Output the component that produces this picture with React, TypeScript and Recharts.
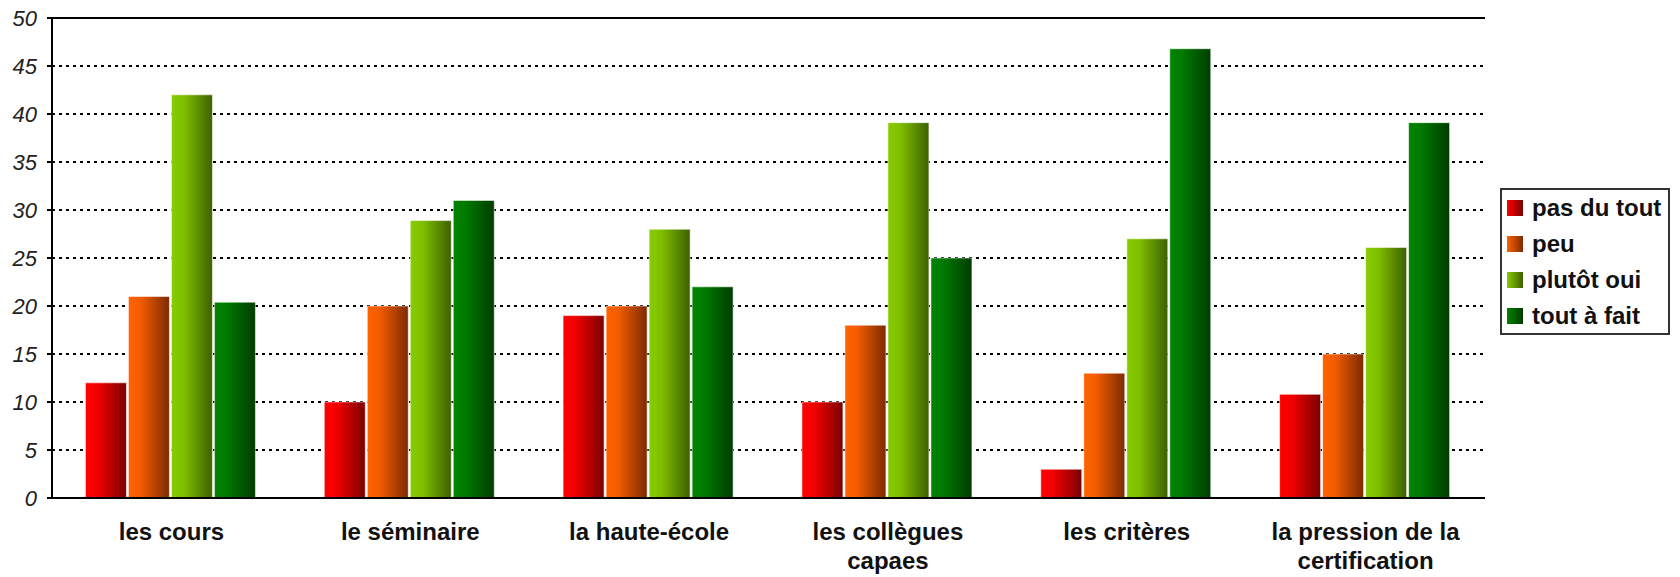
import { BarChart, Bar, XAxis, YAxis, CartesianGrid, Legend, ReferenceLine } from 'recharts';

const categories = [
  'les cours',
  'le séminaire',
  'la haute-école',
  'les collègues\ncapaes',
  'les critères',
  'la pression de la\ncertification',
];
const pasDuTout = [12, 10, 19, 10, 3, 10.8];
const peu = [21, 20, 20, 18, 13, 15];
const plutotOui = [42, 28.9, 28, 39.1, 27, 26.1];
const toutAFait = [20.4, 31, 22, 25, 46.8, 39.1];
const yTicks = [0, 5, 10, 15, 20, 25, 30, 35, 40, 45, 50];

const seriesNames = ['pas du tout', 'peu', 'plutôt oui', 'tout à fait'];

const chartData = categories.map((name, i) => ({
  name,
  pasDuTout: pasDuTout[i],
  peu: peu[i],
  plutotOui: plutotOui[i],
  toutAFait: toutAFait[i],
}));

const FONT = '"Liberation Sans", Arial, sans-serif';

const gradients = [
  { id: 'gRed', from: '#ff0000', mid: '#f20000', to: '#7a0000' },
  { id: 'gOrange', from: '#ff6200', mid: '#f25c00', to: '#7d2a00' },
  { id: 'gLight', from: '#88cc00', mid: '#7fbf00', to: '#3d6000' },
  { id: 'gDark', from: '#008400', mid: '#007a00', to: '#003c00' },
];

const XTick = ({ x, y, payload }: any) => {
  const lines = String(payload.value).split('\n');
  // y comes in below the axis line; place the baselines ourselves
  return (
    <text x={x} y={498} textAnchor="middle" fontFamily={FONT} fontWeight="bold" fontSize={24} fill="#111">
      {lines.map((l, i) => (
        <tspan key={i} x={x} dy={i === 0 ? 42 : 29}>
          {l}
        </tspan>
      ))}
    </text>
  );
};

const renderLegend = () => (
  <div
    style={{
      width: 166,
      height: 143,
      border: '2px solid #333',
      background: '#fff',
      fontFamily: FONT,
      fontWeight: 'bold',
      fontSize: 24,
      color: '#111',
      boxSizing: 'content-box',
    }}
  >
    {seriesNames.map((n, i) => (
      <div key={n} style={{ height: 36, display: 'flex', alignItems: 'center', paddingLeft: 5 }}>
        <span
          style={{
            width: 16,
            height: 16,
            marginRight: 9,
            background: `linear-gradient(to right, ${gradients[i].from}, ${gradients[i].to})`,
          }}
        />
        <span>{n}</span>
      </div>
    ))}
  </div>
);

export default function App() {
  return (
    <div style={{ position: 'absolute', left: 0, top: 0, width: 1680, height: 577, background: '#fff' }}>
      <BarChart
        width={1680}
        height={577}
        data={chartData}
        margin={{ top: 18, right: 195, bottom: 0, left: 0 }}
        barCategoryGap="14%"
        barGap={2}
        style={{ overflow: 'visible' }}
      >
        <defs>
          {gradients.map((g) => (
            <linearGradient key={g.id} id={g.id} x1="0" y1="0" x2="1" y2="0">
              <stop offset="0%" stopColor={g.from} />
              <stop offset="30%" stopColor={g.mid} />
              <stop offset="100%" stopColor={g.to} />
            </linearGradient>
          ))}
        </defs>
        <CartesianGrid vertical={false} stroke="#000" strokeWidth={2} strokeDasharray="3 4" />
        <XAxis
          dataKey="name"
          height={79}
          interval={0}
          tick={<XTick />}
          tickLine={false}
          axisLine={{ stroke: '#000', strokeWidth: 2 }}
        />
        <YAxis
          width={52}
          domain={[0, 50]}
          ticks={yTicks}
          interval={0}
          tickSize={5}
          tickMargin={10}
          tick={{ fontFamily: FONT, fontStyle: 'italic', fontSize: 22, fill: '#222' }}
          tickLine={{ stroke: '#000', strokeWidth: 2 }}
          axisLine={{ stroke: '#000', strokeWidth: 2 }}
        />
        <YAxis
          yAxisId="right"
          orientation="right"
          width={0}
          domain={[0, 50]}
          tick={false}
          tickLine={false}
          axisLine={{ stroke: '#000', strokeWidth: 2 }}
        />
        <ReferenceLine y={50} stroke="#000" strokeWidth={2} />
        <Legend
          layout="horizontal"
          verticalAlign="middle"
          align="center"
          content={renderLegend}
          wrapperStyle={{ left: 1500, top: 188, width: 170, height: 147 }}
        />
        <Bar dataKey="pasDuTout" name="pas du tout" fill="url(#gRed)" stroke="rgba(255,255,255,0.55)" strokeWidth={1} isAnimationActive={false} />
        <Bar dataKey="peu" name="peu" fill="url(#gOrange)" stroke="rgba(255,255,255,0.55)" strokeWidth={1} isAnimationActive={false} />
        <Bar dataKey="plutotOui" name="plutôt oui" fill="url(#gLight)" stroke="rgba(255,255,255,0.55)" strokeWidth={1} isAnimationActive={false} />
        <Bar dataKey="toutAFait" name="tout à fait" fill="url(#gDark)" stroke="rgba(255,255,255,0.55)" strokeWidth={1} isAnimationActive={false} />
      </BarChart>
    </div>
  );
}
